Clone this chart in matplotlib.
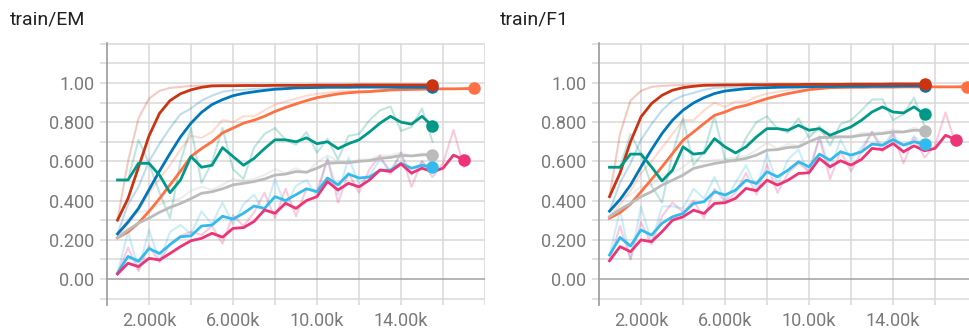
import numpy as np
import matplotlib.pyplot as plt
from matplotlib.ticker import FixedLocator, FuncFormatter

plt.rcParams['font.family'] = ['Roboto', 'DejaVu Sans']

# training steps
steps_short = np.arange(500, 15501, 500)   # 31 points
steps_long = np.arange(500, 17501, 500)    # 35 points (orange run)
steps_pink = np.arange(500, 17001, 500)    # 34 points (pink run)

run_colors = {'orange': '#ff7043', 'blue': '#0077bb', 'red': '#cc3311',
              'cyan': '#33bbee', 'pink': '#ee3377', 'teal': '#009988', 'grey': '#bbbbbb'}

# ---------------- train/EM ----------------
em_red_s = [0.30, 0.41, 0.57, 0.73, 0.845, 0.91, 0.945, 0.965, 0.978, 0.985,
            0.986, 0.986, 0.987, 0.987, 0.987, 0.988, 0.988, 0.988, 0.988, 0.989, 0.989,
            0.989, 0.989, 0.99, 0.99, 0.99, 0.99, 0.99, 0.99, 0.99, 0.99]
em_red_r = [0.30, 0.60, 0.82, 0.92, 0.96, 0.975, 0.98, 0.985, 0.987, 0.988,
            0.987, 0.986, 0.988, 0.987, 0.987, 0.989, 0.988, 0.988, 0.988, 0.99, 0.989,
            0.989, 0.99, 0.99, 0.99, 0.99, 0.99, 0.99, 0.99, 0.99, 0.99]
em_blue_s = [0.23, 0.29, 0.36, 0.455, 0.55, 0.64, 0.725, 0.795, 0.85, 0.89, 0.915,
             0.935, 0.947, 0.955, 0.962, 0.968, 0.971, 0.975, 0.976, 0.977, 0.978,
             0.978, 0.978, 0.979, 0.979, 0.979, 0.979, 0.978, 0.978, 0.978, 0.978]
em_blue_r = [0.23, 0.38, 0.47, 0.60, 0.69, 0.77, 0.84, 0.87, 0.91, 0.935, 0.955,
             0.963, 0.965, 0.97, 0.972, 0.975, 0.977, 0.978, 0.978, 0.978, 0.979,
             0.979, 0.978, 0.979, 0.98, 0.979, 0.979, 0.977, 0.978, 0.978, 0.978]
em_orange_s = [0.21, 0.24, 0.285, 0.345, 0.41, 0.48, 0.55, 0.625, 0.665, 0.70, 0.745,
               0.77, 0.795, 0.81, 0.83, 0.855, 0.875, 0.893, 0.91, 0.925, 0.935, 0.944,
               0.95, 0.954, 0.956, 0.96, 0.964, 0.966, 0.967, 0.968, 0.969, 0.97, 0.97,
               0.971, 0.972]
em_orange_r = [0.21, 0.28, 0.35, 0.44, 0.51, 0.58, 0.66, 0.73, 0.72, 0.75, 0.81, 0.80,
               0.83, 0.83, 0.86, 0.89, 0.905, 0.92, 0.935, 0.945, 0.95, 0.957, 0.959,
               0.96, 0.96, 0.966, 0.97, 0.969, 0.968, 0.97, 0.97, 0.971, 0.97, 0.972, 0.973]
em_teal_s = [0.505, 0.505, 0.59, 0.59, 0.53, 0.44, 0.505, 0.625, 0.57, 0.58, 0.67,
             0.625, 0.58, 0.615, 0.665, 0.71, 0.71, 0.70, 0.72, 0.69, 0.70, 0.665,
             0.69, 0.71, 0.75, 0.795, 0.83, 0.80, 0.79, 0.83, 0.78]
em_teal_r = [0.505, 0.505, 0.71, 0.59, 0.44, 0.31, 0.60, 0.77, 0.49, 0.595, 0.77,
             0.56, 0.51, 0.67, 0.74, 0.77, 0.71, 0.685, 0.75, 0.645, 0.715, 0.61,
             0.73, 0.74, 0.81, 0.86, 0.88, 0.755, 0.775, 0.87, 0.70]
em_grey_s = [0.21, 0.25, 0.285, 0.31, 0.34, 0.365, 0.385, 0.41, 0.437, 0.445, 0.46,
             0.48, 0.488, 0.497, 0.51, 0.53, 0.535, 0.548, 0.545, 0.565, 0.59, 0.593,
             0.593, 0.60, 0.604, 0.615, 0.62, 0.63, 0.628, 0.633, 0.635]
em_grey_r = [0.21, 0.31, 0.34, 0.35, 0.38, 0.40, 0.41, 0.45, 0.47, 0.455, 0.48, 0.51,
             0.50, 0.51, 0.53, 0.56, 0.54, 0.565, 0.54, 0.595, 0.63, 0.60, 0.59, 0.61,
             0.61, 0.63, 0.63, 0.645, 0.625, 0.64, 0.638]
em_cyan_s = [0.03, 0.115, 0.09, 0.155, 0.13, 0.175, 0.215, 0.22, 0.27, 0.275, 0.32,
             0.305, 0.335, 0.372, 0.36, 0.42, 0.40, 0.43, 0.46, 0.445, 0.515, 0.48,
             0.535, 0.515, 0.52, 0.555, 0.555, 0.59, 0.565, 0.58, 0.57]
em_cyan_r = [0.03, 0.24, 0.05, 0.25, 0.09, 0.24, 0.275, 0.23, 0.345, 0.28, 0.39, 0.28,
             0.38, 0.43, 0.34, 0.51, 0.37, 0.475, 0.505, 0.42, 0.62, 0.43, 0.62, 0.485,
             0.53, 0.61, 0.555, 0.64, 0.53, 0.60, 0.555]
em_pink_s = [0.025, 0.08, 0.063, 0.105, 0.097, 0.13, 0.165, 0.195, 0.207, 0.233, 0.213,
             0.258, 0.262, 0.293, 0.352, 0.335, 0.386, 0.36, 0.40, 0.42, 0.497, 0.454,
             0.488, 0.47, 0.505, 0.556, 0.548, 0.587, 0.54, 0.565, 0.547, 0.565, 0.632,
             0.607]
em_pink_r = [0.025, 0.16, 0.04, 0.17, 0.085, 0.18, 0.22, 0.24, 0.225, 0.27, 0.18, 0.325,
             0.27, 0.34, 0.44, 0.31, 0.46, 0.32, 0.46, 0.45, 0.61, 0.39, 0.54, 0.44,
             0.56, 0.63, 0.536, 0.645, 0.47, 0.60, 0.52, 0.59, 0.76, 0.57]

# ---------------- train/F1 ----------------
f1_red_s = [0.42, 0.54, 0.70, 0.827, 0.895, 0.937, 0.963, 0.976, 0.983, 0.988,
            0.989, 0.99, 0.99, 0.991, 0.991, 0.991, 0.992, 0.992, 0.992, 0.993, 0.993,
            0.993, 0.993, 0.994, 0.994, 0.994, 0.994, 0.995, 0.995, 0.995, 0.995]
f1_red_r = [0.42, 0.74, 0.91, 0.96, 0.98, 0.985, 0.988, 0.99, 0.99, 0.991,
            0.99, 0.991, 0.99, 0.992, 0.991, 0.991, 0.993, 0.992, 0.992, 0.994, 0.993,
            0.993, 0.993, 0.995, 0.994, 0.994, 0.994, 0.996, 0.995, 0.995, 0.995]
f1_blue_s = [0.346, 0.405, 0.479, 0.572, 0.66, 0.742, 0.81, 0.861, 0.898, 0.925, 0.946,
             0.959, 0.965, 0.971, 0.974, 0.976, 0.978, 0.979, 0.98, 0.981, 0.982, 0.982,
             0.983, 0.983, 0.983, 0.984, 0.984, 0.984, 0.985, 0.985, 0.985]
f1_blue_r = [0.346, 0.49, 0.59, 0.71, 0.79, 0.86, 0.91, 0.935, 0.95, 0.965, 0.975,
             0.978, 0.975, 0.98, 0.979, 0.979, 0.981, 0.981, 0.982, 0.983, 0.983, 0.982,
             0.984, 0.983, 0.983, 0.985, 0.984, 0.984, 0.986, 0.985, 0.985]
f1_orange_s = [0.31, 0.338, 0.382, 0.445, 0.508, 0.572, 0.64, 0.708, 0.75, 0.793, 0.835,
               0.852, 0.874, 0.886, 0.903, 0.92, 0.934, 0.946, 0.956, 0.966, 0.971,
               0.976, 0.977, 0.978, 0.978, 0.979, 0.979, 0.979, 0.98, 0.98, 0.98, 0.98,
               0.98, 0.98, 0.981]
f1_orange_r = [0.31, 0.38, 0.45, 0.54, 0.60, 0.67, 0.74, 0.81, 0.81, 0.86, 0.90, 0.877,
               0.905, 0.905, 0.93, 0.945, 0.955, 0.964, 0.97, 0.98, 0.979, 0.983, 0.979,
               0.979, 0.978, 0.98, 0.979, 0.979, 0.981, 0.98, 0.98, 0.98, 0.98, 0.98, 0.982]
f1_teal_s = [0.57, 0.57, 0.637, 0.637, 0.572, 0.50, 0.555, 0.674, 0.637, 0.643, 0.716,
             0.674, 0.643, 0.674, 0.725, 0.767, 0.767, 0.759, 0.784, 0.759, 0.767, 0.733,
             0.755, 0.776, 0.81, 0.852, 0.878, 0.852, 0.847, 0.878, 0.84]
f1_teal_r = [0.57, 0.57, 0.74, 0.637, 0.475, 0.39, 0.64, 0.82, 0.58, 0.65, 0.83, 0.61,
             0.60, 0.72, 0.80, 0.83, 0.767, 0.747, 0.82, 0.72, 0.78, 0.68, 0.79, 0.81,
             0.86, 0.915, 0.917, 0.81, 0.84, 0.925, 0.78]
f1_grey_s = [0.318, 0.355, 0.385, 0.42, 0.445, 0.479, 0.504, 0.53, 0.564, 0.577, 0.589,
             0.598, 0.606, 0.615, 0.632, 0.657, 0.66, 0.671, 0.674, 0.70, 0.722, 0.722,
             0.725, 0.725, 0.733, 0.738, 0.742, 0.75, 0.75, 0.759, 0.757]
f1_grey_r = [0.318, 0.41, 0.43, 0.47, 0.48, 0.53, 0.54, 0.57, 0.615, 0.597, 0.607, 0.612,
             0.618, 0.628, 0.657, 0.695, 0.665, 0.688, 0.679, 0.74, 0.755, 0.722, 0.73,
             0.725, 0.745, 0.745, 0.748, 0.762, 0.75, 0.772, 0.754]
f1_cyan_s = [0.122, 0.212, 0.168, 0.25, 0.224, 0.284, 0.317, 0.334, 0.385, 0.394, 0.445,
             0.428, 0.453, 0.504, 0.487, 0.547, 0.521, 0.555, 0.598, 0.572, 0.637, 0.606,
             0.649, 0.632, 0.649, 0.688, 0.683, 0.711, 0.683, 0.70, 0.688]
f1_cyan_r = [0.122, 0.35, 0.10, 0.37, 0.185, 0.37, 0.37, 0.36, 0.46, 0.41, 0.52, 0.40,
             0.49, 0.58, 0.46, 0.64, 0.48, 0.61, 0.66, 0.53, 0.73, 0.56, 0.71, 0.61, 0.67,
             0.75, 0.675, 0.75, 0.64, 0.73, 0.67]
f1_pink_s = [0.093, 0.165, 0.139, 0.199, 0.19, 0.241, 0.30, 0.317, 0.351, 0.334, 0.385,
             0.389, 0.411, 0.462, 0.45, 0.504, 0.479, 0.504, 0.538, 0.542, 0.615, 0.572,
             0.603, 0.581, 0.61, 0.666, 0.66, 0.691, 0.649, 0.679, 0.654, 0.666, 0.733,
             0.711]
f1_pink_r = [0.093, 0.27, 0.10, 0.29, 0.176, 0.32, 0.39, 0.34, 0.40, 0.31, 0.46, 0.395,
             0.44, 0.54, 0.43, 0.585, 0.44, 0.54, 0.59, 0.55, 0.72, 0.51, 0.65, 0.55, 0.65,
             0.75, 0.65, 0.74, 0.59, 0.72, 0.62, 0.68, 0.85, 0.68]

em_runs = [('orange', steps_long, em_orange_r, em_orange_s),
           ('blue', steps_short, em_blue_r, em_blue_s),
           ('red', steps_short, em_red_r, em_red_s),
           ('grey', steps_short, em_grey_r, em_grey_s),
           ('teal', steps_short, em_teal_r, em_teal_s),
           ('cyan', steps_short, em_cyan_r, em_cyan_s),
           ('pink', steps_pink, em_pink_r, em_pink_s)]
f1_runs = [('orange', steps_long, f1_orange_r, f1_orange_s),
           ('blue', steps_short, f1_blue_r, f1_blue_s),
           ('red', steps_short, f1_red_r, f1_red_s),
           ('grey', steps_short, f1_grey_r, f1_grey_s),
           ('teal', steps_short, f1_teal_r, f1_teal_s),
           ('cyan', steps_short, f1_cyan_r, f1_cyan_s),
           ('pink', steps_pink, f1_pink_r, f1_pink_s)]

xtick_vals = [2000, 6000, 10000, 14000]
xtick_labels = ['2.000k', '6.000k', '10.00k', '14.00k']
ytick_labels = {0.0: '0.00', 0.2: '0.200', 0.4: '0.400', 0.6: '0.600', 0.8: '0.800', 1.0: '1.00'}


def fmt_y(v, pos):
    return ytick_labels.get(round(v, 1), '')


def draw_panel(ax, runs):
    ax.set_xlim(0, 18000)
    ax.set_ylim(-0.133, 1.204)
    for s in ['top', 'right', 'bottom']:
        ax.spines[s].set_visible(False)
    ax.spines['left'].set_color('#9a9a9a')
    ax.spines['left'].set_linewidth(1.2)

    # grid
    for gx in np.arange(2000, 18001, 2000):
        ax.axvline(gx, color='#d9d9d9', lw=1.1, zorder=0)
    for gy in np.arange(-0.1, 1.21, 0.1):
        c = '#a0a0a0' if abs(gy) < 1e-6 else '#d9d9d9'
        ax.axhline(gy, color=c, lw=1.1, zorder=0.5)

    ax.yaxis.set_major_locator(FixedLocator(np.round(np.arange(-0.1, 1.21, 0.1), 1)))
    ax.yaxis.set_major_formatter(FuncFormatter(fmt_y))
    ax.tick_params(axis='y', length=5, width=1.1, color='#d9d9d9', pad=4,
                   labelsize=13, labelcolor='#7a7a7a')
    ax.set_xticks(xtick_vals)
    ax.set_xticklabels(xtick_labels)
    ax.tick_params(axis='x', length=0, pad=5, labelsize=13, labelcolor='#7a7a7a')

    for name, x, raw, sm in runs:
        ax.plot(x, raw, color=run_colors[name], lw=1.5, alpha=0.25, zorder=2)
    for name, x, raw, sm in runs:
        ax.plot(x, sm, color=run_colors[name], lw=2.0, zorder=3)
        ax.plot(x[-1], sm[-1], 'o', color=run_colors[name], ms=9, mec='none', zorder=4)


fig = plt.figure(figsize=(9.69, 3.33), dpi=100)
ax1 = fig.add_axes([107 / 969, 28 / 333, 378 / 969, 262 / 333])
ax2 = fig.add_axes([599 / 969, 28 / 333, 378 / 969, 262 / 333])
draw_panel(ax1, em_runs)
draw_panel(ax2, f1_runs)

fig.text(10 / 969, 1 - 24 / 333, 'train/EM', fontsize=14, color='#212121', va='baseline')
fig.text(500 / 969, 1 - 24 / 333, 'train/F1', fontsize=14, color='#212121', va='baseline')

fig.savefig('out.png', dpi=100)
